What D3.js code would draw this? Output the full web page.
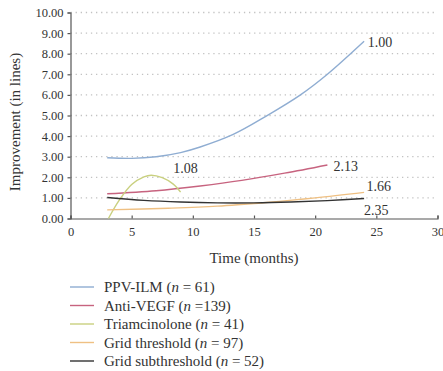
<html>
<head>
<meta charset="utf-8">
<title>Improvement over time</title>
<style type="text/css">
body { margin: 0; background: #fff; }
text { font-family: "Liberation Serif", "DejaVu Serif", serif; fill: #333; }
.axis path, .axis line { stroke: #555; stroke-width: 1.2; }
.axis text { font-size: 12.5px; fill: #333; }
</style>
</head>
<body>
<script src="https://d3js.org/d3.v7.min.js"></script>
<script>

// data (months, improvement in lines)
var ppvX = [3, 5, 7, 9, 10.6, 13.3, 16, 18.8, 21, 24];
var ppvY = [2.95, 2.92, 3.0, 3.2, 3.47, 4.08, 4.97, 6.0, 7.0, 8.6];

var vegfX = [3, 7, 10.6, 14, 17.5, 21];
var vegfY = [1.2, 1.35, 1.58, 1.85, 2.2, 2.6];

var triX = [3.1, 4, 5, 6, 6.6, 7.5, 8.4, 9];
var triY = [0, 0.9, 1.65, 2.02, 2.1, 1.98, 1.67, 1.28];

var gridX = [3, 8, 12, 16, 20, 24];
var gridY = [0.42, 0.5, 0.6, 0.78, 1.0, 1.27];

var subX = [3, 6, 9, 12, 15, 18, 21, 24];
var subY = [1.02, 0.88, 0.8, 0.76, 0.76, 0.8, 0.87, 0.97];

var names = ["PPV-ILM", "Anti-VEGF", "Triamcinolone", "Grid threshold", "Grid subthreshold"];
var counts = ["= 61", "=139", "= 41", "= 97", "= 52"];
var endLabels = ["1.00", "2.13", "1.08", "1.66", "2.35"];
var colors = ["#8fadd2", "#c7637f", "#c9d07f", "#efc083", "#333333"];

var xTicks = [0, 5, 10, 15, 20, 25, 30];
var yTicks = [0, 1, 2, 3, 4, 5, 6, 7, 8, 9, 10];

var series = [
  {xs: ppvX, ys: ppvY}, {xs: vegfX, ys: vegfY}, {xs: triX, ys: triY},
  {xs: gridX, ys: gridY}, {xs: subX, ys: subY}
];

var width = 443, height = 371;

var x = d3.scaleLinear().domain([0, 30]).range([70.5, 437.5]);
var y = d3.scaleLinear().domain([0, 10]).range([218.5, 12.5]);

var svg = d3.select("body").append("svg")
    .attr("width", width)
    .attr("height", height);

// dotted grid
svg.append("g").selectAll("line")
    .data(yTicks.slice(1))
    .enter().append("line")
    .attr("x1", x(0)).attr("x2", x(30))
    .attr("y1", function(d) { return y(d); })
    .attr("y2", function(d) { return y(d); })
    .attr("stroke", "#c2c2c2")
    .attr("stroke-width", 1.3)
    .attr("stroke-dasharray", "1.3,3.8");

// axes
svg.append("g")
    .attr("class", "axis")
    .attr("transform", "translate(0," + y(0) + ")")
    .call(d3.axisBottom(x).tickValues(xTicks).tickSize(-3).tickPadding(9).tickFormat(d3.format("d")));

svg.append("g")
    .attr("class", "axis")
    .attr("transform", "translate(" + x(0) + ",0)")
    .call(d3.axisLeft(y).tickValues(yTicks).tickSize(3).tickPadding(4).tickFormat(d3.format(".2f")));

// lines
var line = d3.line()
    .x(function(d) { return x(d[0]); })
    .y(function(d) { return y(d[1]); })
    .curve(d3.curveCatmullRom.alpha(0.5));

series.forEach(function(s, i) {
  svg.append("path")
      .datum(d3.zip(s.xs, s.ys))
      .attr("fill", "none")
      .attr("stroke", colors[i])
      .attr("stroke-width", 1.4)
      .attr("d", line);
});

// end labels
var labelPos = [[24.3, 8.55], [21.5, 2.55], [8.4, 2.45], [24.2, 1.55], [24, 0.42]];
svg.append("g").selectAll("text")
    .data(endLabels)
    .enter().append("text")
    .attr("x", function(d, i) { return x(labelPos[i][0]); })
    .attr("y", function(d, i) { return y(labelPos[i][1]); })
    .attr("dy", "0.35em")
    .style("font-size", "14px")
    .text(function(d) { return d; });

// axis titles
svg.append("text")
    .attr("x", 254)
    .attr("y", 263)
    .attr("text-anchor", "middle")
    .style("font-size", "15px")
    .text("Time (months)");

svg.append("text")
    .attr("transform", "translate(20,122) rotate(-90)")
    .attr("text-anchor", "middle")
    .style("font-size", "15px")
    .text("Improvement (in lines)");

// legend
var legend = svg.append("g").selectAll("g")
    .data(names)
    .enter().append("g")
    .attr("transform", function(d, i) { return "translate(70," + (287 + i * 18.5) + ")"; });

legend.append("line")
    .attr("x1", 0).attr("x2", 24)
    .attr("stroke", function(d, i) { return colors[i]; })
    .attr("stroke-width", 1.4);

var lt = legend.append("text")
    .attr("x", 34)
    .attr("dy", "0.35em")
    .style("font-size", "15px");
lt.append("tspan").text(function(d) { return d + " ("; });
lt.append("tspan").style("font-style", "italic").text("n");
lt.append("tspan").text(function(d, i) { return " " + counts[i] + ")"; });

</script>
</body>
</html>
